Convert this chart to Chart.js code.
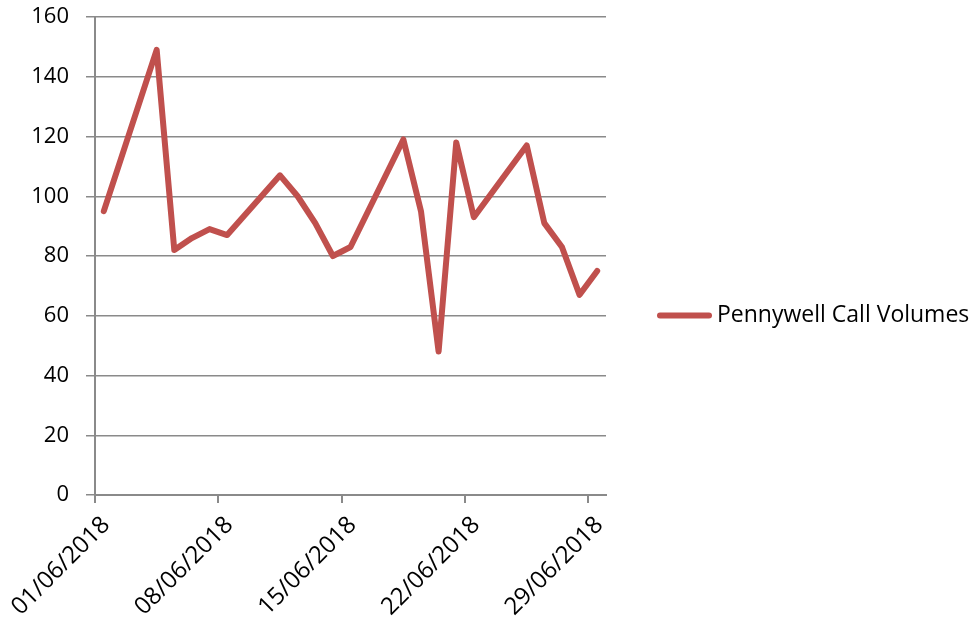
<!DOCTYPE html>
<html>
<head>
<meta charset="utf-8">
<script src="https://cdn.jsdelivr.net/npm/chart.js@4/dist/chart.umd.min.js"></script>
<style>
  html, body { margin: 0; padding: 0; background: #fff; }
</style>
</head>
<body>
<canvas id="callChart" width="974" height="621"></canvas>
<script>
// weekdays only, June 2018
const callDates = [
  "01/06/2018", "04/06/2018", "05/06/2018", "06/06/2018", "07/06/2018", "08/06/2018",
  "11/06/2018", "12/06/2018", "13/06/2018", "14/06/2018", "15/06/2018",
  "18/06/2018", "19/06/2018", "20/06/2018", "21/06/2018", "22/06/2018",
  "25/06/2018", "26/06/2018", "27/06/2018", "28/06/2018", "29/06/2018"
];
const callVolumes = [95, 149, 82, 86, 89, 87, 107, 100, 91, 80, 83, 119, 95, 48, 118, 93, 117, 91, 83, 67, 75];
const tickLabels = ["01/06/2018", "08/06/2018", "15/06/2018", "22/06/2018", "29/06/2018"];
const seriesLabel = "Pennywell Call Volumes";

const lineColor = "#C0504D";
const gridColor = "#8a8a8a";
const fontFamily = "'Open Sans', sans-serif";

// each day gets one slot on the axis, the point sits in the middle of it
const dayOf = (d) => parseInt(d.split("/")[0], 10);
const points = callDates.map((d, i) => ({ x: dayOf(d) - 0.5, y: callVolumes[i] }));

const sideLegend = {
  id: "sideLegend",
  afterDraw(chart) {
    const ctx = chart.ctx;
    const x = chart.chartArea.right + 51;
    const y = chart.height / 2 + 5;
    ctx.save();
    ctx.strokeStyle = lineColor;
    ctx.lineWidth = 6;
    ctx.lineCap = "round";
    ctx.beginPath();
    ctx.moveTo(x + 3, y);
    ctx.lineTo(x + 52, y);
    ctx.stroke();
    ctx.fillStyle = "#000";
    ctx.font = "23px " + fontFamily;
    ctx.textBaseline = "middle";
    ctx.fillText(chart.data.datasets[0].label, x + 60, y);
    ctx.restore();
  }
};

new Chart(document.getElementById("callChart"), {
  type: "line",
  data: {
    datasets: [{
      label: seriesLabel,
      data: points,
      borderColor: lineColor,
      borderWidth: 6,
      pointRadius: 0,
      tension: 0,
      borderJoinStyle: "round",
      borderCapStyle: "round"
    }]
  },
  options: {
    responsive: false,
    animation: false,
    layout: { padding: { top: 17, right: 368, left: 0, bottom: 0 } },
    plugins: {
      legend: { display: false },
      tooltip: { enabled: false }
    },
    scales: {
      x: {
        type: "linear",
        min: 0,
        max: 29,
        afterBuildTicks: (scale) => {
          scale.ticks = tickLabels.map((t) => ({ value: dayOf(t) - 1 }));
        },
        afterFit: (scale) => {
          scale.height = 126;
          scale.paddingLeft = 0;
          scale.paddingRight = 0;
        },
        ticks: {
          minRotation: 45,
          maxRotation: 45,
          padding: 8,
          labelOffset: 11,
          color: "#000",
          font: { family: fontFamily, size: 24 },
          callback: (v) => tickLabels.find((t) => dayOf(t) - 1 === v) || ""
        },
        grid: {
          drawOnChartArea: false,
          drawTicks: true,
          tickLength: 8,
          color: gridColor,
          lineWidth: 2
        },
        border: { color: gridColor, width: 2 }
      },
      y: {
        min: 0,
        max: 160,
        afterFit: (scale) => {
          scale.width = 95;
          scale.paddingTop = 0;
          scale.paddingBottom = 0;
        },
        ticks: {
          stepSize: 20,
          padding: 17,
          color: "#000",
          font: { family: fontFamily, size: 22 }
        },
        grid: {
          color: gridColor,
          lineWidth: 1.5,
          tickLength: 9
        },
        border: { color: gridColor, width: 2 }
      }
    }
  },
  plugins: [sideLegend]
});
</script>
</body>
</html>
